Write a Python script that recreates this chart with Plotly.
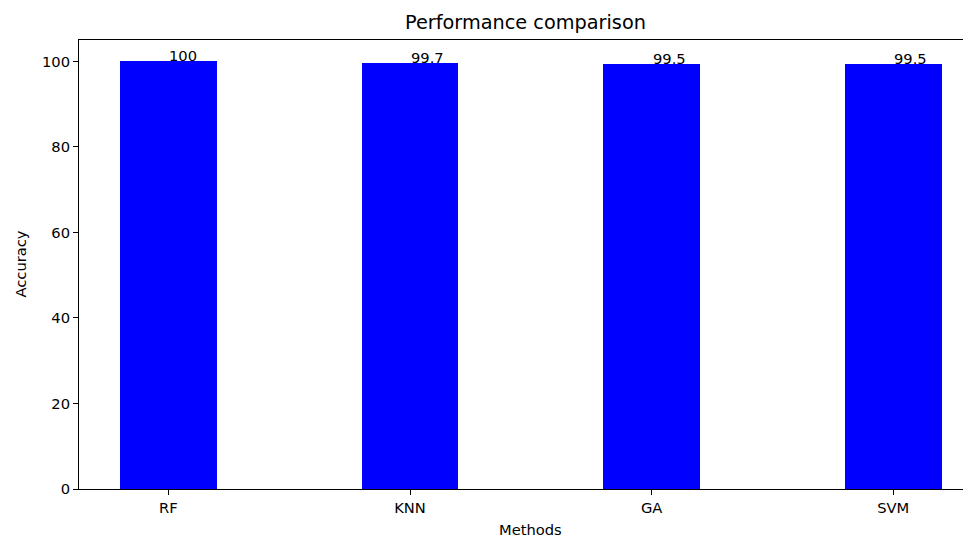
import plotly.graph_objects as go

methods = ["RF", "KNN", "GA", "SVM"]
accuracy = [100, 99.7, 99.5, 99.5]
value_labels = ["100", "99.7", "99.5", "99.5"]

font = "DejaVu Sans"
fs = 14.7
xs = list(range(len(methods)))

fig = go.Figure()
fig.add_trace(go.Bar(x=xs, y=accuracy, width=0.4, marker=dict(color="#0000ff", line=dict(width=0)),
                     hoverinfo="skip"))

for x, y, t in zip(xs, accuracy, value_labels):
    fig.add_annotation(x=x, y=y, text=t, xref="x", yref="y", xanchor="left", yanchor="bottom",
                       showarrow=False, yshift=-5, xshift=-1,
                       font=dict(family=font, size=fs, color="black"))

fig.add_annotation(text="Performance comparison", xref="paper", yref="paper", x=0.5, y=1,
                   xanchor="center", yanchor="middle", yshift=18, showarrow=False,
                   font=dict(family=font, size=19.3, color="black"))
fig.add_annotation(text="Methods", xref="x", yref="paper", x=1.5, y=0, xanchor="center",
                   yanchor="middle", yshift=-40, showarrow=False,
                   font=dict(family=font, size=fs, color="black"))
fig.add_annotation(text="Accuracy", xref="paper", yref="paper", x=0, y=0.5, xanchor="center",
                   yanchor="middle", xshift=-59, textangle=-90, showarrow=False,
                   font=dict(family=font, size=fs, color="black"))

fig.update_layout(
    width=963, height=527,
    margin=dict(l=71, r=0, t=32, b=46),
    plot_bgcolor="white", paper_bgcolor="white",
    showlegend=False,
    font=dict(family=font, size=fs, color="black"),
    bargap=0,
)
fig.update_xaxes(range=[-0.37, 3.322], tickmode="array", tickvals=xs, ticktext=methods,
                 showgrid=False, zeroline=False, showline=True, linecolor="black", linewidth=1,
                 mirror=True, ticks="outside", ticklen=5, tickcolor="black", tickwidth=1,
                 tickfont=dict(family=font, size=fs, color="black"))
fig.update_yaxes(range=[0, 105], tickmode="array", tickvals=[0, 20, 40, 60, 80, 100],
                 showgrid=False, zeroline=False, showline=True, linecolor="black", linewidth=1,
                 mirror=False, ticks="outside", ticklen=5, tickcolor="black", tickwidth=1,
                 tickfont=dict(family=font, size=fs, color="black"))

fig.write_html("out.html")
